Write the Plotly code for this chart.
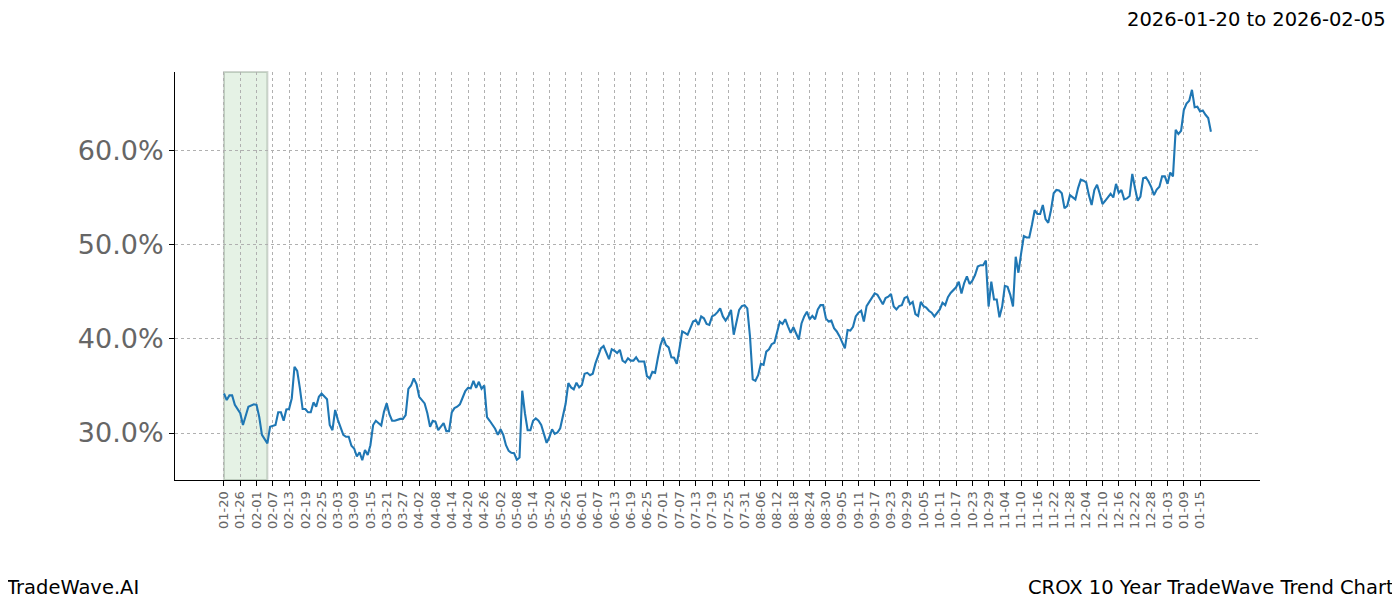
import pandas as pd
import plotly.graph_objects as go

# ---- data ----
start_date = "2025-01-20"
highlight_start = "2025-01-20"
highlight_end = "2025-02-05"
title_text = "2026-01-20 to 2026-02-05"
left_footer = "TradeWave.AI"
right_footer = "CROX 10 Year TradeWave Trend Chart"

day_offsets = [
    0, 1, 2, 3, 4, 6, 7, 8, 9, 11, 12, 13, 14, 15, 16, 17, 19, 20, 21, 22, 23, 24, 25, 26, 27, 28, 29, 30,
    31, 32, 33, 34, 35, 36, 37, 38, 39, 40, 41, 42, 44, 45, 46, 47, 48, 49, 50, 51, 52, 53, 54, 55, 56, 57,
    58, 59, 60, 61, 62, 63, 65, 66, 67, 68, 69, 70, 71, 72, 73, 74, 75, 76, 77, 78, 79, 80, 81, 82, 83, 84,
    85, 86, 87, 88, 89, 90, 91, 92, 93, 94, 95, 96, 97, 98, 99, 100, 101, 102, 103, 104, 105, 106, 107, 108,
    109, 110, 111, 112, 113, 114, 115, 116, 117, 118, 119, 120, 121, 122, 123, 124, 125, 126, 127, 128, 129,
    130, 131, 132, 133, 134, 135, 136, 137, 138, 139, 140, 141, 142, 143, 144, 145, 146, 147, 148, 149, 150,
    151, 152, 153, 154, 155, 156, 157, 158, 159, 160, 161, 162, 163, 164, 165, 166, 167, 168, 169, 170, 171,
    172, 173, 174, 175, 176, 177, 178, 179, 180, 181, 182, 183, 184, 185, 186, 187, 188, 189, 190, 191, 192,
    193, 194, 195, 196, 197, 198, 199, 200, 201, 202, 203, 204, 205, 206, 207, 208, 209, 210, 211, 212, 213,
    214, 215, 216, 217, 218, 219, 220, 221, 222, 223, 224, 225, 226, 227, 228, 229, 230, 231, 232, 233, 234,
    235, 236, 237, 238, 239, 240, 241, 242, 243, 244, 245, 246, 247, 248, 249, 250, 251, 252, 253, 254, 255,
    256, 257, 258, 259, 260, 261, 262, 263, 264, 265, 266, 267, 268, 270, 271, 272, 273, 274, 275, 276, 277,
    278, 279, 280, 281, 282, 283, 284, 285, 286, 287, 288, 289, 290, 291, 292, 293, 294, 295, 296, 297, 298,
    299, 300, 301, 302, 303, 304, 305, 306, 307, 308, 309, 310, 311, 312, 313, 314, 315, 316, 317, 318, 319,
    320, 321, 322, 323, 324, 325, 327, 328, 329, 330, 331, 332, 333, 334, 335, 336, 337, 338, 339, 340, 341,
    342, 343, 344, 345, 346, 347, 348, 349, 350, 351, 352, 353, 354, 355, 356, 357, 358, 359, 360, 361, 362,
    363, 364,
]

trend_values = [
    34.2, 33.5, 34.0, 34.0, 33.0, 32.1, 30.85, 31.7, 32.8, 33.05, 33.0, 31.7, 29.8, 29.35, 28.9, 30.65, 30.85,
    32.2, 32.2, 31.3, 32.5, 32.55, 33.7, 37.05, 36.6, 34.75, 32.55, 32.55, 32.2, 32.2, 33.25, 32.8, 33.85,
    34.2, 33.85, 33.6, 30.85, 30.3, 32.45, 31.4, 29.8, 29.6, 29.6, 28.65, 28.35, 27.5, 27.95, 27.1, 28.2,
    27.65, 28.7, 30.85, 31.3, 31.0, 30.8, 32.25, 33.15, 32.0, 31.3, 31.3, 31.5, 31.5, 31.9, 34.7, 35.05,
    35.8, 35.2, 33.85, 33.5, 33.15, 32.1, 30.65, 31.3, 31.2, 30.3, 30.65, 31.05, 30.2, 30.2, 32.2, 32.65,
    32.8, 33.05, 33.75, 34.45, 34.8, 34.75, 35.55, 34.8, 35.45, 34.7, 35.05, 31.7, 31.3, 30.85, 30.45, 29.8,
    30.4, 29.8, 28.7, 28.1, 27.9, 27.85, 27.15, 27.4, 34.5, 32.1, 30.3, 30.3, 31.3, 31.55, 31.3, 30.85, 29.8,
    28.95, 29.55, 30.4, 29.9, 30.05, 30.5, 31.9, 33.1, 35.3, 34.85, 34.65, 35.35, 34.85, 35.1, 36.3, 36.4,
    36.15, 36.3, 37.4, 38.2, 39.0, 39.25, 38.55, 37.85, 38.9, 38.75, 38.5, 38.85, 37.7, 37.5, 37.95, 37.7,
    37.7, 38.05, 37.6, 37.6, 37.6, 36.05, 35.8, 36.5, 36.4, 37.95, 39.35, 40.15, 39.35, 39.1, 38.05, 38.0,
    37.35, 39.0, 40.8, 40.65, 40.45, 41.15, 41.85, 42.0, 41.5, 42.4, 42.2, 41.6, 41.5, 42.4, 42.55, 42.85,
    43.25, 42.4, 41.95, 42.4, 43.1, 40.45, 41.85, 43.1, 43.5, 43.6, 43.25, 40.25, 35.7, 35.55, 36.15, 37.35,
    37.25, 38.65, 38.9, 39.45, 39.6, 40.6, 41.85, 41.6, 42.1, 41.35, 40.65, 41.25, 40.55, 39.95, 41.65,
    42.4, 42.9, 42.1, 42.45, 42.1, 43.15, 43.6, 43.6, 42.2, 41.85, 41.95, 41.15, 40.8, 40.3, 39.7, 39.0,
    40.95, 40.9, 41.3, 42.4, 42.8, 43.0, 41.85, 43.5, 43.95, 44.45, 44.85, 44.7, 44.2, 43.7, 44.35, 44.5,
    44.8, 43.45, 43.15, 43.5, 43.6, 44.35, 44.5, 43.7, 43.95, 42.65, 42.45, 43.95, 43.5, 43.35, 43.0, 42.8,
    42.4, 42.8, 43.15, 43.85, 43.6, 44.45, 44.9, 45.5, 46.1, 44.85, 45.95, 46.65, 45.85, 46.2, 46.8, 47.7,
    47.85, 47.85, 48.35, 43.45, 46.1, 44.2, 44.2, 42.3, 43.45, 45.65, 45.55, 44.7, 43.45, 48.75, 47.05,
    49.1, 50.95, 50.8, 50.8, 52.15, 53.7, 53.3, 53.3, 54.25, 52.75, 52.35, 53.7, 55.5, 55.85, 55.8, 55.5,
    53.9, 54.15, 55.3, 55.05, 54.85, 56.05, 56.95, 56.85, 56.65, 55.3, 54.25, 55.85, 56.4, 55.45, 54.35,
    54.7, 55.45, 55.05, 56.5, 55.55, 55.85, 54.85, 54.95, 55.2, 57.55, 56.05, 54.7, 55.15, 57.1, 57.2,
    56.75, 56.15, 55.3, 55.9, 56.2, 57.3, 57.3, 56.5, 57.7, 57.3, 62.25, 61.8, 62.15, 64.35, 65.05, 65.35,
    66.5, 64.65, 64.7, 64.2, 64.3, 63.85, 63.5, 62.05,
]

tick_count = 61
tick_step_days = 6
y_ticks = [30, 40, 50, 60]

# ---- build ----
t0 = pd.Timestamp(start_date)
dates = [t0 + pd.Timedelta(days=d) for d in day_offsets]
tick_dates = pd.date_range(t0, periods=tick_count, freq=f"{tick_step_days}D")
tick_text = [d.strftime("%m-%d") for d in tick_dates]

x_min = t0 - pd.Timedelta(days=18.07)
x_max = t0 + pd.Timedelta(days=382.1)

fig = go.Figure()
fig.add_trace(go.Scatter(
    x=dates, y=trend_values, mode="lines",
    line=dict(color="#1f77b4", width=2.1),
    showlegend=False, hoverinfo="x+y",
))

fig.add_shape(
    type="rect", xref="x", yref="paper",
    x0=pd.Timestamp(highlight_start), x1=pd.Timestamp(highlight_end), y0=0, y1=1,
    fillcolor="rgba(0,128,0,0.1)", line=dict(color="rgba(100,120,100,0.3)", width=2),
    layer="below",
)

font_family = "DejaVu Sans"
# page body has an 8px margin, so the figure is sized/positioned to compensate
fig.update_layout(
    width=1392, height=592,
    margin=dict(l=167, r=140, t=64, b=120),
    paper_bgcolor="white", plot_bgcolor="white",
    font=dict(family=font_family),
    xaxis=dict(
        type="date",
        range=[x_min, x_max],
        tickmode="array", tickvals=list(tick_dates), ticktext=tick_text,
        tickangle=-90, tickfont=dict(size=13, color="#666666", family=font_family),
        showgrid=True, gridcolor="#b0b0b0", griddash="dot", gridwidth=0.8,
        showline=True, linecolor="black", linewidth=1,
        ticks="outside", ticklen=5, tickcolor="black", tickwidth=1,
        zeroline=False,
    ),
    yaxis=dict(
        range=[25.0, 68.4],
        tickmode="array", tickvals=y_ticks,
        ticktext=[f"{v:.1f}%" for v in y_ticks],
        tickfont=dict(size=27, color="#666666", family=font_family),
        showgrid=True, gridcolor="#b0b0b0", griddash="dot", gridwidth=0.8,
        showline=True, linecolor="black", linewidth=1,
        ticks="outside", ticklen=5, tickcolor="black", tickwidth=1,
        zeroline=False,
    ),
    annotations=[
        dict(text=title_text, xref="paper", yref="paper", x=1.118, y=1.128,
             xanchor="right", yanchor="middle", showarrow=False,
             font=dict(size=19.5, color="black", family=font_family)),
        dict(text=left_footer, xref="paper", yref="paper", x=-0.1575, y=-0.2647,
             xanchor="left", yanchor="middle", showarrow=False,
             font=dict(size=19.5, color="black", family=font_family)),
        dict(text=right_footer, xref="paper", yref="paper", x=1.1258, y=-0.2647,
             xanchor="right", yanchor="middle", showarrow=False,
             font=dict(size=19.5, color="black", family=font_family)),
    ],
)

fig.write_html("out.html")
